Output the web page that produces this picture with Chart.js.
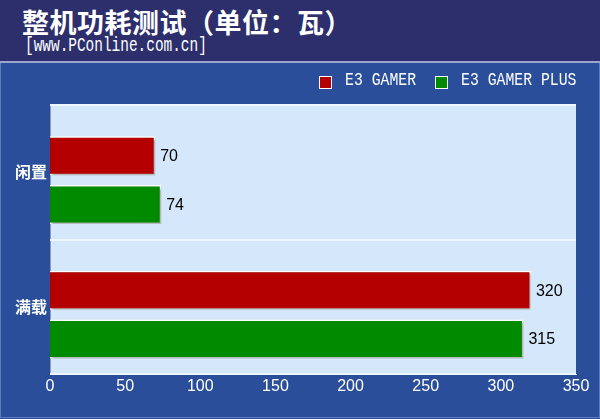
<!DOCTYPE html>
<html>
<head>
<meta charset="utf-8">
<script src="https://cdn.jsdelivr.net/npm/chart.js@4"></script>
<style>
  html, body { margin: 0; padding: 0; }
  body { width: 600px; height: 419px; background: #2a4e9a; overflow: hidden; font-family: "Noto Sans CJK SC", sans-serif; position: relative; }
  #header { height: 61px; background: #2c2f6c; border-bottom: 2px solid #9aa6cf; position: relative; }
  #title { position: absolute; left: 22px; top: 2px; color: #fff; font: bold 27px "Noto Sans CJK SC"; letter-spacing: 0.5px; white-space: nowrap; }
  #site { position: absolute; left: 25px; top: 35px; color: #fff; font: 19.5px "Liberation Mono", monospace; transform: scaleX(0.74); transform-origin: left top; white-space: nowrap; }
  #wrap { position: relative; width: 600px; height: 356px; }
  #legend { position: absolute; left: 0; top: 0; width: 600px; height: 40px; }
  .lg-box { position: absolute; width: 11px; height: 11px; border: 1px solid #fff; top: 13px; }
  .lg-text { position: absolute; top: 7px; color: #fff; font: 18.5px "Liberation Mono", monospace; transform: scaleX(0.8); transform-origin: left top; white-space: nowrap; line-height: 22px; }
  #edge { position: absolute; left: 0; top: 63px; width: 598px; height: 354px; border: 1px solid #5d7cc0; border-top: none; pointer-events: none; }
</style>
</head>
<body>
<div id="header">
  <div id="title">整机功耗测试（单位：瓦）</div>
  <div id="site">[www.PConline.com.cn]</div>
</div>
<div id="wrap"><canvas id="chart"></canvas><div id="legend"></div></div>
<div id="edge"></div>
<script>
const categories = ["闲置", "满载"];
const seriesNames = ["E3 GAMER", "E3 GAMER PLUS"];
const gamerValues = [70, 320];
const gamerPlusValues = [74, 315];
const xTicks = [0, 50, 100, 150, 200, 250, 300, 350];
const seriesColors = ["#b40000", "#008a00"];

// light blue plot background
const plotBg = {
    id: "plotBg",
    beforeDraw(chart) {
        const { ctx, chartArea: a } = chart;
        ctx.save();
        ctx.fillStyle = "#d5e8fb";
        ctx.fillRect(a.left, a.top, a.right - a.left, a.bottom - a.top);
        ctx.strokeStyle = "#8a9cbf";
        ctx.lineWidth = 1;
        ctx.beginPath();
        ctx.moveTo(a.left + 0.5, a.bottom);
        ctx.lineTo(a.left + 0.5, a.top + 0.5);
        ctx.lineTo(a.right, a.top + 0.5);
        ctx.stroke();
        ctx.restore();
    }
};

// soft shadow under bars
const barShadow = {
    id: "barShadow",
    beforeDatasetsDraw(chart) {
        const ctx = chart.ctx;
        ctx.save();
        ctx.shadowColor = "rgba(0,0,0,0.3)";
        ctx.shadowOffsetX = 2;
        ctx.shadowOffsetY = 2;
        ctx.shadowBlur = 2;
    },
    afterDatasetsDraw(chart) {
        chart.ctx.restore();
    }
};

// value labels right of bars
const valueLabels = {
    id: "valueLabels",
    afterDatasetsDraw(chart) {
        const ctx = chart.ctx;
        ctx.save();
        ctx.font = "16px 'Liberation Sans', Arial";
        ctx.fillStyle = "#000";
        ctx.textAlign = "left";
        ctx.textBaseline = "middle";
        chart.data.datasets.forEach((ds, i) => {
            chart.getDatasetMeta(i).data.forEach((bar, j) => {
                ctx.fillText(ds.data[j], bar.x + 5, bar.y + 1);
            });
        });
        ctx.restore();
    }
};

// html legend built from the chart's legend items
const htmlLegend = {
    id: "htmlLegend",
    afterUpdate(chart) {
        const box = document.getElementById("legend");
        box.innerHTML = "";
        const items = chart.options.plugins.legend.labels.generateLabels(chart);
        const boxX = [319, 435];
        items.forEach((item, i) => {
            const sq = document.createElement("div");
            sq.className = "lg-box";
            sq.style.left = boxX[i] + "px";
            sq.style.background = item.fillStyle;
            const tx = document.createElement("div");
            tx.className = "lg-text";
            tx.style.left = (boxX[i] + 26) + "px";
            tx.textContent = item.text;
            box.appendChild(sq);
            box.appendChild(tx);
        });
    }
};

new Chart(document.getElementById("chart"), {
    type: "bar",
    data: {
        labels: categories,
        datasets: [
            { label: seriesNames[0], data: gamerValues, backgroundColor: seriesColors[0], borderColor: "#ffffff", borderWidth: 1.5,
              categoryPercentage: 0.49, barPercentage: 1.18 },
            { label: seriesNames[1], data: gamerPlusValues, backgroundColor: seriesColors[1], borderColor: "#ffffff", borderWidth: 1.5,
              categoryPercentage: 0.96, barPercentage: 0.605 }
        ]
    },
    options: {
        indexAxis: "y",
        responsive: true,
        maintainAspectRatio: false,
        animation: false,
        layout: { padding: { top: 42, right: 24, left: 0, bottom: 0 } },
        plugins: {
            legend: { display: false },
            tooltip: { enabled: false }
        },
        scales: {
            x: {
                min: 0,
                max: 350,
                afterBuildTicks(scale) {
                    scale.ticks = xTicks.map(v => ({ value: v }));
                },
                grid: { display: false, drawTicks: false },
                border: { display: true, color: "#eef6ff", width: 1 },
                ticks: { color: "#fff", font: { family: "'Liberation Sans', Arial", size: 16 }, padding: 3 },
                afterFit(scale) { scale.height = 45; }
            },
            y: {
                grid: { color: "#eef6ff", lineWidth: 2, drawTicks: false, offset: true },
                border: { display: false },
                ticks: { color: "#fff", font: { family: "'Noto Sans CJK SC'", size: 16, weight: "bold" }, padding: 3 },
                afterFit(scale) { scale.width = 50; }
            }
        }
    },
    plugins: [plotBg, barShadow, valueLabels, htmlLegend]
});
</script>
</body>
</html>
